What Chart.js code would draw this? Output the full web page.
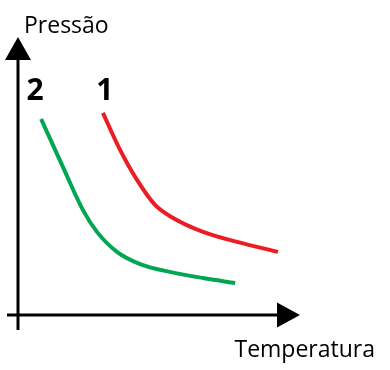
<!DOCTYPE html>
<html>
<head>
<meta charset="utf-8">
<script src="https://cdn.jsdelivr.net/npm/chart.js@4"></script>
<style>
  html, body { margin: 0; padding: 0; background: #fff; }
  #wrap { width: 390px; height: 370px; }
</style>
</head>
<body>
<div id="wrap"><canvas id="chart" width="390" height="370"></canvas></div>
<script>
// Curve data (Temperatura, Pressão), arbitrary units 0..10
const curve1X = [3.01, 3.62, 4.22, 4.86, 5.50, 6.56, 7.77, 9.22];
const curve1Y = [7.27, 5.94, 4.86, 3.96, 3.49, 2.99, 2.63, 2.27];
const curve2X = [0.82, 1.56, 2.30, 2.80, 3.51, 4.33, 5.39, 6.56, 7.70];
const curve2Y = [7.05, 5.40, 3.78, 2.99, 2.27, 1.83, 1.55, 1.33, 1.15];
const seriesNames = ['1', '2'];
const xTitle = 'Temperatura';
const yTitle = 'Pressão';

const toPoints = (xs, ys) => xs.map((x, i) => ({ x: x, y: ys[i] }));

// axes with arrows, axis names and curve numbers
const axesPlugin = {
    id: 'arrowAxes',
    afterDatasetsDraw(chart) {
        const ctx = chart.ctx;
        const sx = chart.scales.x, sy = chart.scales.y;
        const x0 = sx.getPixelForValue(0), y0 = sy.getPixelForValue(0);
        const xEnd = sx.getPixelForValue(10), yEnd = sy.getPixelForValue(10);
        ctx.save();
        ctx.strokeStyle = '#000';
        ctx.fillStyle = '#000';
        ctx.lineWidth = 3;
        // y axis, a bit below the x axis
        ctx.beginPath();
        ctx.moveTo(x0, y0 + 15);
        ctx.lineTo(x0, yEnd + 20);
        ctx.stroke();
        // x axis, starts a bit left of the y axis
        ctx.beginPath();
        ctx.moveTo(x0 - 11, y0);
        ctx.lineTo(xEnd - 20, y0);
        ctx.stroke();
        // arrow heads
        ctx.beginPath();
        ctx.moveTo(x0, yEnd);
        ctx.lineTo(x0 - 13, yEnd + 23);
        ctx.lineTo(x0 + 13, yEnd + 23);
        ctx.closePath();
        ctx.fill();
        ctx.beginPath();
        ctx.moveTo(xEnd, y0);
        ctx.lineTo(xEnd - 23, y0 - 12.5);
        ctx.lineTo(xEnd - 23, y0 + 12.5);
        ctx.closePath();
        ctx.fill();

        ctx.font = '23px "Open Sans", sans-serif';
        ctx.textBaseline = 'alphabetic';
        ctx.textAlign = 'left';
        ctx.fillText(yTitle, x0 + 6, yEnd - 4);
        ctx.textAlign = 'right';
        ctx.fillText(xTitle, 375, y0 + 42);

        // series numbers above the first point of each curve
        ctx.font = 'bold 30px "Open Sans", sans-serif';
        ctx.textAlign = 'center';
        const offs = [2, -6];
        chart.data.datasets.forEach((ds, i) => {
            const p = ds.data[0];
            ctx.fillText(ds.label, sx.getPixelForValue(p.x) + offs[i], 100);
        });
        ctx.restore();
    }
};

new Chart(document.getElementById('chart'), {
    type: 'scatter',
    data: {
        datasets: [
            {
                label: seriesNames[0],
                data: toPoints(curve1X, curve1Y),
                showLine: true,
                borderColor: '#ed1c24',
                borderWidth: 4,
                pointRadius: 0,
                cubicInterpolationMode: 'monotone'
            },
            {
                label: seriesNames[1],
                data: toPoints(curve2X, curve2Y),
                showLine: true,
                borderColor: '#00a651',
                borderWidth: 4,
                pointRadius: 0,
                cubicInterpolationMode: 'monotone'
            }
        ]
    },
    options: {
        responsive: false,
        animation: false,
        layout: { padding: { left: 18, right: 90, top: 37, bottom: 55 } },
        scales: {
            x: { type: 'linear', min: 0, max: 10, display: false },
            y: { type: 'linear', min: 0, max: 10, display: false }
        },
        plugins: {
            legend: { display: false },
            tooltip: { enabled: false }
        }
    },
    plugins: [axesPlugin]
});
</script>
</body>
</html>
